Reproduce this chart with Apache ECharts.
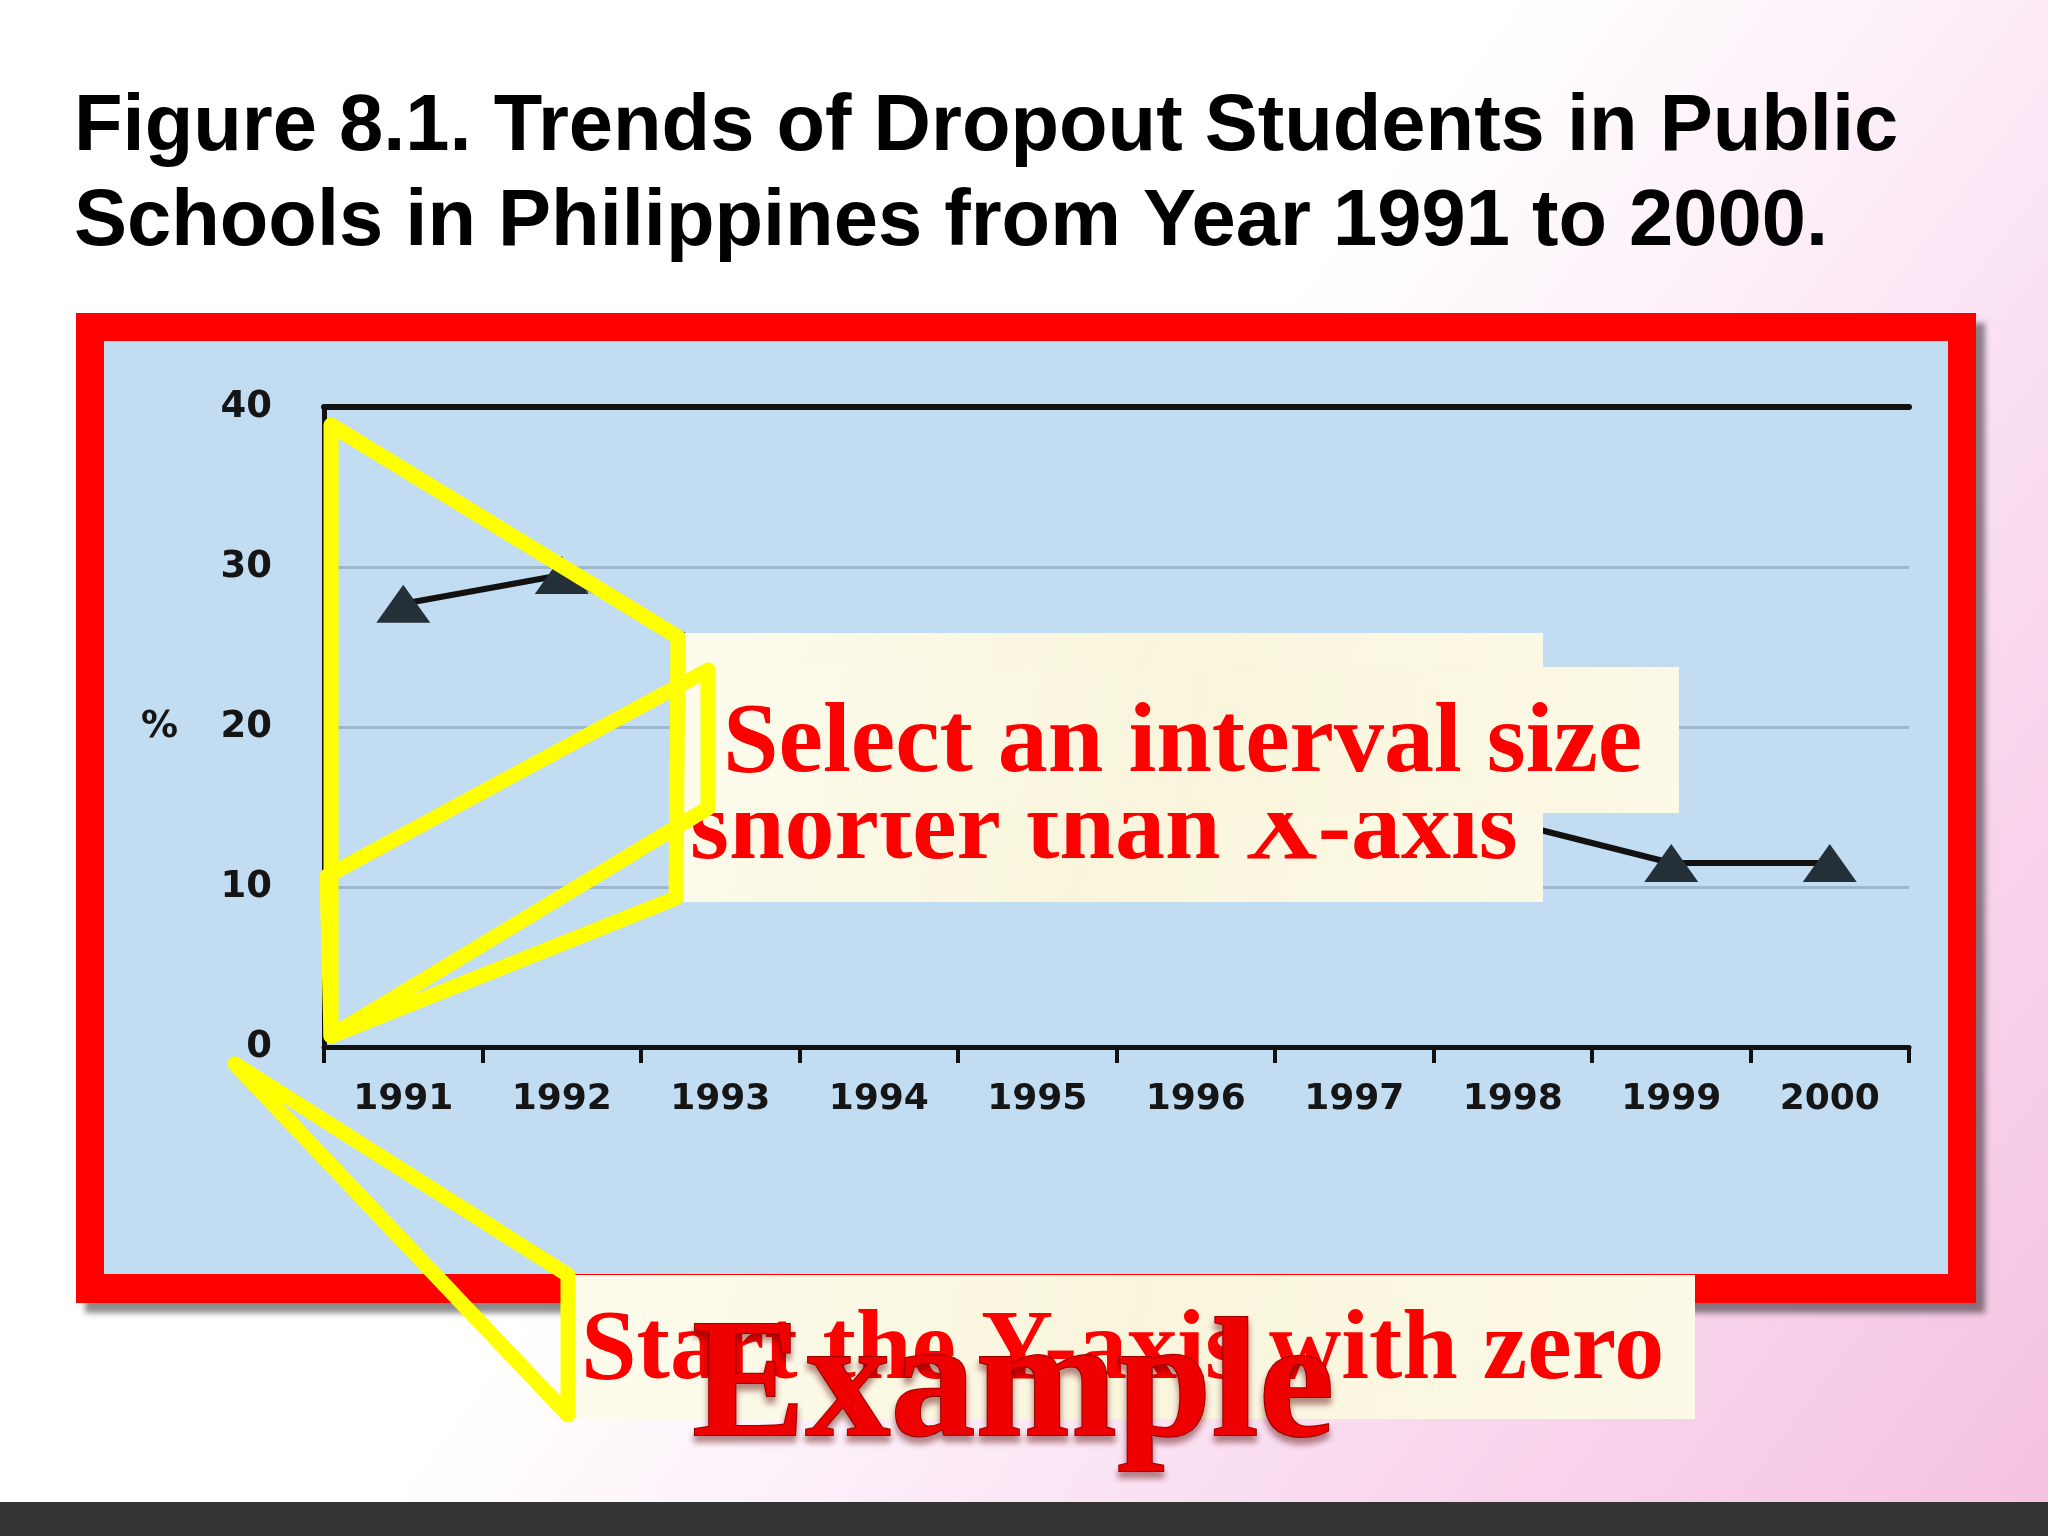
<!DOCTYPE html>
<html>
<head>
<meta charset="utf-8">
<title>Dropout trends</title>
<script src="https://cdn.jsdelivr.net/npm/echarts@6/dist/echarts.min.js"></script>
<style>
  html, body { margin: 0; padding: 0; background: #fff; }
  #chart { width: 2048px; height: 1536px; }
</style>
</head>
<body>
<div id="chart"></div>
<script>
// years on the x axis
var years = ['1991', '1992', '1993', '1994', '1995', '1996', '1997', '1998', '1999', '2000']
// dropout rate (%); 1994-1997 sit behind the note box
var dropout = [27.7, 29.5, 24.6, 22.3, 20.0, 17.8, 15.9, 14.0, 11.5, 11.5]
var yTicks = [0, 10, 20, 30, 40]

var titleLines = [
  'Figure 8.1. Trends of Dropout Students in Public',
  'Schools in Philippines from Year 1991 to 2000.'
]
var noteLines = ['Select an interval size', 'shorter than X-axis']
var noteZero = 'Start the Y-axis with zero'
var stamp = 'Example'

var chart = echarts.init(document.getElementById('chart'))

var serif = '"Liberation Serif", "Times New Roman", serif'
var sans = '"DejaVu Sans", sans-serif'
var cream = {
  type: 'linear', x: 0, y: 0, x2: 1, y2: 1,
  colorStops: [
    { offset: 0, color: '#fdfbec' },
    { offset: 0.5, color: '#f9f5dc' },
    { offset: 1, color: '#fcf9e6' }
  ]
}
var yellow = { fill: null, stroke: '#ffff00', lineWidth: 15, lineJoin: 'round' }

chart.setOption({
  animation: false,
  backgroundColor: 'transparent',
  graphic: {
    elements: [
      // slide background
      {
        type: 'rect', z: -20, silent: true,
        shape: { x: 0, y: 0, width: 2048, height: 1536 },
        style: {
          fill: {
            type: 'linear', x: 0, y: 0, x2: 1, y2: 1,
            colorStops: [
              { offset: 0, color: '#ffffff' },
              { offset: 0.47, color: '#ffffff' },
              { offset: 0.6, color: '#fcf0f9' },
              { offset: 0.78, color: '#f9d8ee' },
              { offset: 1, color: '#f5c2e0' }
            ]
          }
        }
      },
      { type: 'rect', z: -19, silent: true, shape: { x: 0, y: 1502, width: 2048, height: 34 }, style: { fill: '#343434' } },
      // title
      {
        type: 'text', z: 5, left: 74, top: 88,
        style: { text: titleLines[0], font: 'bold 79.5px "Liberation Sans", Arial, sans-serif', fill: '#000' }
      },
      {
        type: 'text', z: 5, left: 74, top: 183,
        style: { text: titleLines[1], font: 'bold 79.5px "Liberation Sans", Arial, sans-serif', fill: '#000' }
      },
      // red frame + blue panel
      {
        type: 'rect', z: -10, silent: true,
        shape: { x: 76, y: 313, width: 1900, height: 990 },
        style: { fill: '#ff0000', shadowColor: 'rgba(0,0,0,0.45)', shadowBlur: 6, shadowOffsetX: 9, shadowOffsetY: 10 }
      },
      { type: 'rect', z: -9, silent: true, shape: { x: 104, y: 341, width: 1844, height: 933 }, style: { fill: '#c2dcf2' } },
      // upper note
      { type: 'rect', z: 50, shape: { x: 679, y: 633, width: 864, height: 269 }, style: { fill: cream } },
      {
        type: 'text', z: 51, x: 690, y: 832,
        style: { text: noteLines[1], font: 'bold 100px ' + serif, fill: '#ff0000', verticalAlign: 'middle' }
      },
      { type: 'rect', z: 52, shape: { x: 704, y: 667, width: 975, height: 146 }, style: { fill: cream } },
      {
        type: 'text', z: 53, x: 723, y: 745,
        style: { text: noteLines[0], font: 'bold 100px ' + serif, fill: '#ff0000', verticalAlign: 'middle' }
      },
      // lower note
      { type: 'rect', z: 50, shape: { x: 575, y: 1275, width: 1120, height: 144 }, style: { fill: cream } },
      {
        type: 'text', z: 51, x: 581, y: 1352,
        style: { text: noteZero, font: 'bold 100px ' + serif, fill: '#ff0000', verticalAlign: 'middle' }
      },
      {
        type: 'text', z: 55, x: 692, y: 1391,
        style: {
          text: stamp, font: 'bold 170px ' + serif, fill: '#ee0000', stroke: '#a00000', lineWidth: 2,
          verticalAlign: 'middle',
          textShadowColor: 'rgba(90,0,0,0.45)', textShadowBlur: 6, textShadowOffsetY: 6
        }
      },
      // yellow callout outlines
      {
        type: 'polygon', z: 60,
        shape: { points: [[331, 425], [678, 637], [676, 898], [331, 1036]] },
        style: yellow
      },
      {
        type: 'polygon', z: 60,
        shape: { points: [[327, 876], [708, 670], [708, 808], [331, 1036]] },
        style: yellow
      },
      {
        type: 'polygon', z: 60,
        shape: { points: [[235, 1064], [568, 1275], [568, 1415]] },
        style: yellow
      }
    ]
  },
  grid: { left: 324, right: 139, top: 407, bottom: 489 },
  xAxis: [{
    type: 'category',
    data: years,
    boundaryGap: true,
    axisLine: { lineStyle: { color: '#111', width: 5 } },
    axisTick: { show: true, length: 16, lineStyle: { color: '#111', width: 4 } },
    axisLabel: { margin: 35, color: '#151515', fontSize: 36, fontWeight: 'bold', fontFamily: sans },
    splitLine: { show: false }
  }, {
    // heavy rule along the 40 line
    type: 'category',
    data: years,
    position: 'top',
    axisLine: { lineStyle: { color: '#111', width: 6 } },
    axisTick: { show: false },
    axisLabel: { show: false }
  }],
  yAxis: {
    type: 'value',
    min: 0,
    max: 40,
    interval: 10,
    name: '%',
    nameLocation: 'middle',
    nameRotate: 0,
    nameGap: 146,
    nameTextStyle: { color: '#151515', fontSize: 37, fontWeight: 'bold', fontFamily: sans },
    axisLine: { show: true, lineStyle: { color: '#111', width: 5 } },
    axisTick: { show: false },
    axisLabel: {
      margin: 52, color: '#151515', fontSize: 37, fontWeight: 'bold', fontFamily: sans,
      formatter: function(v) { return yTicks.indexOf(v) >= 0 ? String(v) : '' }
    },
    splitLine: { show: true, lineStyle: { color: '#9db7cd', width: 3 } }
  },
  series: [{
    name: 'Dropout',
    type: 'line',
    data: dropout,
    symbol: 'triangle',
    symbolSize: [54, 38],
    lineStyle: { color: '#111', width: 6 },
    itemStyle: { color: '#243038' },
    z: 3
  }]
})
</script>
</body>
</html>
